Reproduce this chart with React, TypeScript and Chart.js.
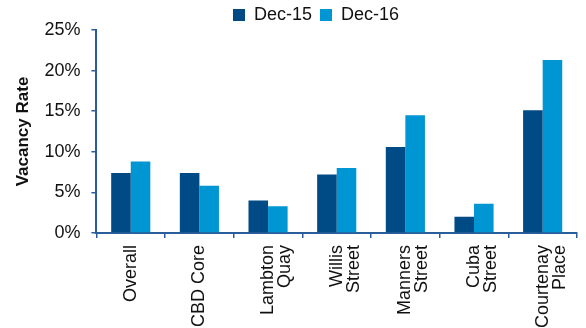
import React, { useEffect, useRef } from "react";
import { Chart, registerables } from "chart.js";

Chart.register(...registerables);

const categories: (string | string[])[] = [
  "Overall",
  "CBD Core",
  ["Lambton", "Quay"],
  ["Willis", "Street"],
  ["Manners", "Street"],
  ["Cuba", "Street"],
  ["Courtenay", "Place"],
];
const dec15 = [7.4, 7.4, 4.0, 7.2, 10.6, 2.0, 15.1];
const dec16 = [8.8, 5.8, 3.3, 8.0, 14.5, 3.6, 21.3];
const yTicks = [0, 5, 10, 15, 20, 25];

const DARK = "#004A85";
const LIGHT = "#0095D3";
const AXIS = "#2A5E9A";
const FONT = "'Liberation Sans', Arial, sans-serif";

const legendShift = {
  id: "legendShift",
  afterLayout(chart: any) {
    const lg = chart.legend;
    if (lg) {
      lg.left += 26;
      lg.right += 26;
      lg.top += 4;
      lg.bottom += 4;
    }
  },
};

export default function App() {
  const ref = useRef<HTMLCanvasElement | null>(null);
  useEffect(() => {
    document.body.style.margin = "0";
    const ctx = ref.current!;
    const chart = new Chart(ctx, {
      type: "bar",
      data: {
        labels: categories,
        datasets: [
          { label: "Dec-15", data: dec15, backgroundColor: DARK, categoryPercentage: 0.57, barPercentage: 1 },
          { label: "Dec-16", data: dec16, backgroundColor: LIGHT, categoryPercentage: 0.57, barPercentage: 1 },
        ],
      },
      plugins: [legendShift],
      options: {
        responsive: false,
        animation: false,
        layout: { padding: { left: 3, right: 9, top: -6, bottom: -7 } },
        plugins: {
          legend: {
            position: "top",
            labels: {
              boxWidth: 12,
              boxHeight: 12,
              padding: 8,
              color: "#111",
              font: { family: FONT, size: 18 },
            },
          },
          tooltip: { enabled: false },
        },
        scales: {
          x: {
            grid: {
              drawOnChartArea: false,
              drawTicks: true,
              tickLength: 5,
              color: AXIS,
              lineWidth: 1.5,
              offset: true,
            },
            border: { color: AXIS, width: 2 },
            ticks: {
              maxRotation: 90,
              minRotation: 90,
              padding: 7,
              color: "#111",
              font: { family: FONT, size: 18, lineHeight: 0.95 },
            },
          },
          y: {
            min: 0,
            max: 25,
            afterBuildTicks: (axis: any) => {
              axis.ticks = yTicks.map((v) => ({ value: v }));
            },
            grid: {
              drawOnChartArea: false,
              drawTicks: true,
              tickLength: 5,
              color: AXIS,
              lineWidth: 1.5,
            },
            border: { color: AXIS, width: 2 },
            ticks: {
              padding: 11,
              color: "#111",
              font: { family: FONT, size: 18 },
              callback: (v: any) => v + "%",
            },
            title: {
              display: true,
              text: "Vacancy Rate",
              color: "#111",
              font: { family: FONT, size: 17, weight: "bold" },
              padding: { top: 10, bottom: 0 },
            },
          },
        },
      },
    });
    return () => chart.destroy();
  }, []);
  return (
    <div style={{ position: "absolute", left: 0, top: 0, width: 586, height: 328 }}>
      <canvas ref={ref} width={586} height={328} />
    </div>
  );
}
